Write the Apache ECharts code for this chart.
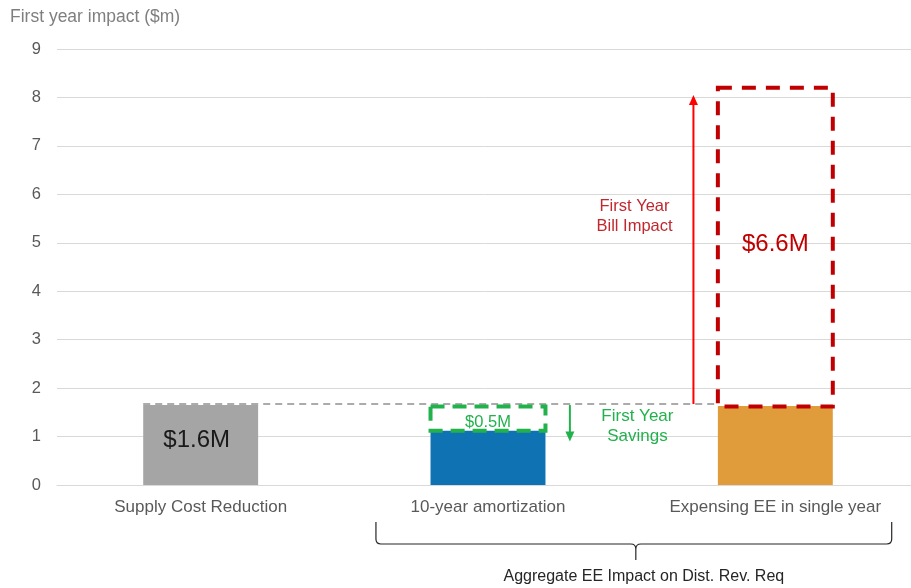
<!DOCTYPE html>
<html>
<head>
<meta charset="utf-8">
<script src="https://cdn.jsdelivr.net/npm/echarts@6/dist/echarts.min.js"></script>
<style>
  html, body { margin: 0; padding: 0; background: #fff; }
  #chart { width: 911px; height: 588px; }
</style>
</head>
<body>
<div id="chart"></div>
<script>
// categories and bar values ($m)
var categories = ['Supply Cost Reduction', '10-year amortization', 'Expensing EE in single year'];
var barValues = [1.65, 1.12, 1.63];
var barColors = ['#A5A5A5', '#0E72B3', '#E09B3B'];
var yTicks = [0, 9, 1];  // min, max, interval

// dashed boxes: [categoryIndex, bottom, top]
var savingsBox = [1, 1.12, 1.62];
var billBox = [2, 1.62, 8.2];
// baseline (supply cost level) across bars
var baselineLevel = 1.67;
// arrows: [categoryIndex, offset in band widths, from, to]
var billArrow = [2, -0.285, 1.67, 8.05];
var savingsArrow = [1, 0.285, 1.65, 0.9];

var FONT = 'Liberation Sans, Arial';
var chart = echarts.init(document.getElementById('chart'));

function bandWidth(api) { return api.size([1, 0])[0]; }

var option = {
  animation: false,
  grid: { left: 57, right: -8, top: 49, bottom: 103, outerBoundsMode: 'none', containLabel: false },
  xAxis: {
    type: 'category',
    data: categories,
    axisLine: { lineStyle: { color: '#D9D9D9', width: 1 } },
    axisTick: { show: false },
    axisLabel: { color: '#595959', fontSize: 17, fontFamily: FONT, margin: 14 }
  },
  yAxis: {
    type: 'value',
    min: yTicks[0], max: yTicks[1], interval: yTicks[2],
    name: 'First year impact ($m)',
    nameLocation: 'end',
    nameGap: 23,
    nameTextStyle: { color: '#7F7F7F', fontSize: 17.5, fontFamily: FONT, align: 'left', padding: [0, 0, 0, -47] },
    axisLine: { show: false },
    axisTick: { show: false },
    axisLabel: { color: '#595959', fontSize: 16.5, fontFamily: FONT, margin: 16 },
    splitLine: { lineStyle: { color: '#D9D9D9', width: 1 } }
  },
  series: [
    {
      type: 'bar',
      barWidth: '40%',
      data: barValues.map(function (v, i) {
        return { value: v, itemStyle: { color: barColors[i] } };
      }),
      label: {
        show: true,
        position: 'inside',
        offset: [-4, -5],
        fontSize: 24,
        fontFamily: FONT,
        color: '#1a1a1a',
        formatter: function (p) { return p.dataIndex === 0 ? '$1.6M' : ''; }
      },
      z: 2
    },
    {
      // baseline dashed line
      type: 'custom',
      data: [[0, baselineLevel]],
      z: 3,
      renderItem: function (params, api) {
        var bw = bandWidth(api);
        var p0 = api.coord([0, api.value(1)]);
        var p1 = api.coord([2, api.value(1)]);
        return {
          type: 'line',
          shape: { x1: p0[0] - bw * 0.2, y1: p0[1], x2: p1[0] - bw * 0.2, y2: p1[1] },
          style: { stroke: '#ABABAB', lineWidth: 2, lineDash: [7, 5] }
        };
      }
    },
    {
      // dashed boxes
      type: 'custom',
      data: [savingsBox, billBox],
      z: 4,
      renderItem: function (params, api) {
        var bw = bandWidth(api);
        var cat = api.value(0);
        var lo = api.coord([cat, api.value(1)]);
        var hi = api.coord([cat, api.value(2)]);
        var color = params.dataIndex === 0 ? '#22B24C' : '#C00000';
        var dash = params.dataIndex === 0 ? [14, 8] : [14, 10];
        return {
          type: 'rect',
          shape: { x: lo[0] - bw * 0.2, y: hi[1], width: bw * 0.4, height: lo[1] - hi[1] },
          style: { fill: 'none', stroke: color, lineWidth: 4, lineDash: dash }
        };
      }
    },
    {
      // arrows
      type: 'custom',
      data: [billArrow, savingsArrow],
      z: 5,
      renderItem: function (params, api) {
        var bw = bandWidth(api);
        var cat = api.value(0);
        var off = api.value(1) * bw;
        var a = api.coord([cat, api.value(2)]);
        var b = api.coord([cat, api.value(3)]);
        var x = a[0] + off;
        var color = params.dataIndex === 0 ? '#FF0000' : '#22B24C';
        var dir = b[1] < a[1] ? 1 : -1;
        var hl = 10, hw = 4.5;
        return {
          type: 'group',
          children: [
            { type: 'line', shape: { x1: x, y1: a[1], x2: x, y2: b[1] + dir * hl * 0.6 },
              style: { stroke: color, lineWidth: 2 } },
            { type: 'polygon', shape: { points: [[x, b[1]], [x - hw, b[1] + dir * hl], [x + hw, b[1] + dir * hl]] },
              style: { fill: color } }
          ]
        };
      }
    },
    {
      // annotation texts
      type: 'custom',
      data: [
        [2, 0, 4.97, '$6.6M', '#C00000', 24],
        [1, 0, 1.3, '$0.5M', '#22B24C', 16.5],
        [2, -0.49, 5.55, 'First Year\nBill Impact', '#C0282E', 16.5],
        [1, 0.52, 1.22, 'First Year\nSavings', '#22B24C', 17]
      ],
      z: 6,
      renderItem: function (params, api) {
        var bw = bandWidth(api);
        var p = api.coord([api.value(0), api.value(2)]);
        return {
          type: 'text',
          x: p[0] + api.value(1) * bw,
          y: p[1],
          style: {
            text: api.value(3),
            fill: api.value(4),
            fontSize: api.value(5),
            fontFamily: FONT,
            align: 'center',
            verticalAlign: 'middle',
            lineHeight: 20
          }
        };
      }
    },
    {
      // brace under the two EE bars
      type: 'custom',
      data: [[1, 2, 0]],
      z: 6,
      renderItem: function (params, api) {
        var bw = bandWidth(api);
        var l = api.coord([api.value(0), 0]);
        var r = api.coord([api.value(1), 0]);
        var x1 = l[0] - bw * 0.39, x2 = r[0] + bw * 0.405;
        var xm = (x1 + x2) / 2 + 2;
        var y0 = l[1] + 37, y1 = l[1] + 59, ym = l[1] + 75;
        var c = 5;
        var path = 'M' + x1 + ' ' + y0 +
          ' L' + x1 + ' ' + (y1 - c) +
          ' Q' + x1 + ' ' + y1 + ' ' + (x1 + c) + ' ' + y1 +
          ' L' + (xm - c) + ' ' + y1 +
          ' Q' + xm + ' ' + y1 + ' ' + xm + ' ' + (y1 + c) +
          ' L' + xm + ' ' + ym +
          ' M' + xm + ' ' + (y1 + c) +
          ' Q' + xm + ' ' + y1 + ' ' + (xm + c) + ' ' + y1 +
          ' L' + (x2 - c) + ' ' + y1 +
          ' Q' + x2 + ' ' + y1 + ' ' + x2 + ' ' + (y1 - c) +
          ' L' + x2 + ' ' + y0;
        return {
          type: 'group',
          children: [
            { type: 'path', shape: { pathData: path }, style: { fill: 'none', stroke: '#262626', lineWidth: 1.2 } },
            { type: 'text', x: xm + 8, y: l[1] + 92,
              style: { text: 'Aggregate EE Impact on Dist. Rev. Req', fill: '#262626', fontSize: 16,
                fontFamily: FONT, align: 'center', verticalAlign: 'middle' } }
          ]
        };
      }
    }
  ]
};

chart.setOption(option);
</script>
</body>
</html>
